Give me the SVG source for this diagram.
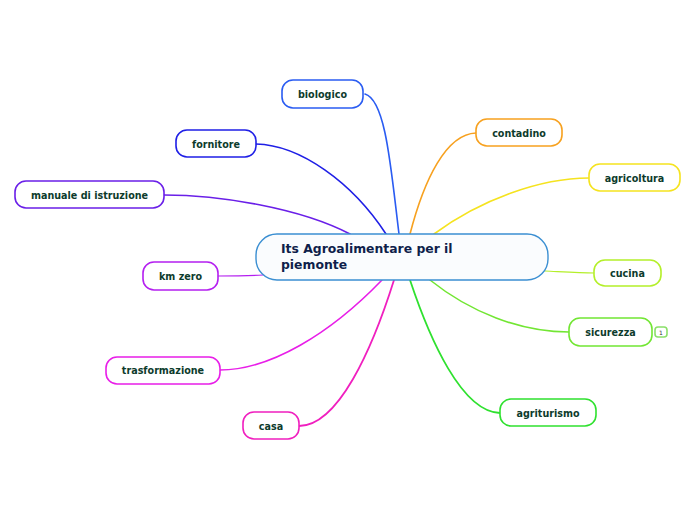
<svg xmlns="http://www.w3.org/2000/svg" width="696" height="520" viewBox="0 0 696 520">
<style>
.n rect{fill:#ffffff;stroke-width:1.6}
.n text{font-family:"DejaVu Sans",Verdana,sans-serif;font-weight:bold;font-size:9.6px;fill:#0d3b2c;text-anchor:middle}
.c path{fill:none;stroke-linecap:round}
.ct{font-family:"DejaVu Sans",Verdana,sans-serif;font-weight:bold;font-size:12.4px;fill:#0f1f4b}
</style>
<rect width="696" height="520" fill="#ffffff"/>
<g id="connectors" class="c">
<path d="M399,234 C391,170 386,100 365,94" stroke="#2a5cf2" stroke-width="1.6"/>
<path d="M410,234 C424,180 446,134 476,133" stroke="#f7a11f" stroke-width="1.6"/>
<path d="M434,234 C480,200 540,178 589,178" stroke="#f5e31f" stroke-width="1.6"/>
<path d="M545,271 C565,272 580,273 594,273" stroke="#b4ef2a" stroke-width="1.2"/>
<path d="M430,280 C470,312 520,332 569,332" stroke="#72e633" stroke-width="1.6"/>
<path d="M410,280 C430,340 462,412 500,413" stroke="#2fe12f" stroke-width="1.8"/>
<path d="M394,280 C372,350 338,426 299,426" stroke="#f01fbf" stroke-width="1.8"/>
<path d="M382,280 C330,334 270,370 220,370" stroke="#e81ee8" stroke-width="1.6"/>
<path d="M263,275 C245,276 230,276 218,276" stroke="#b41ff0" stroke-width="1.2"/>
<path d="M350,234 C300,208 220,195 164,195" stroke="#6a1fe8" stroke-width="1.6"/>
<path d="M386,234 C352,182 300,145 256,144" stroke="#1f1fe6" stroke-width="1.6"/>
</g>
<g id="center">
<rect x="256" y="234" width="292" height="46" rx="21" fill="#fafcfe" stroke="#3b8fd2" stroke-width="1.4"/>
<text class="ct" x="281" y="253">Its Agroalimentare per il</text>
<text class="ct" x="281" y="269">piemonte</text>
</g>
<g id="biologico" class="n"><rect x="282" y="80" width="81" height="28" rx="11" stroke="#2a5cf2"/><text x="322.5" y="97.5">biologico</text></g>
<g id="contadino" class="n"><rect x="476" y="119" width="86" height="27" rx="11" stroke="#f7a11f"/><text x="519" y="136.5">contadino</text></g>
<g id="agricoltura" class="n"><rect x="589" y="164" width="91" height="27" rx="11" stroke="#f5e31f"/><text x="634.5" y="181.5">agricoltura</text></g>
<g id="cucina" class="n"><rect x="594" y="260" width="67" height="26" rx="11" stroke="#b4ef2a"/><text x="627.5" y="276.5">cucina</text></g>
<g id="sicurezza" class="n"><rect x="569" y="318" width="83" height="28" rx="11" stroke="#72e633"/><text x="610.5" y="335.5">sicurezza</text>
<rect x="655" y="327" width="12" height="10" rx="3" stroke="#8be06a" stroke-width="0.8"/><text x="661" y="334.5" style="font-size:6px;font-weight:normal;fill:#333">1</text></g>
<g id="agriturismo" class="n"><rect x="500" y="399" width="96" height="27" rx="11" stroke="#2fe12f"/><text x="548" y="416.5">agriturismo</text></g>
<g id="casa" class="n"><rect x="243" y="412" width="56" height="27" rx="11" stroke="#f01fbf"/><text x="271" y="429.5">casa</text></g>
<g id="trasformazione" class="n"><rect x="106" y="357" width="114" height="27" rx="11" stroke="#e81ee8"/><text x="163" y="374">trasformazione</text></g>
<g id="kmzero" class="n"><rect x="143" y="262" width="75" height="28" rx="11" stroke="#b41ff0"/><text x="180.5" y="279.5">km zero</text></g>
<g id="manuale" class="n"><rect x="15" y="181" width="149" height="27" rx="11" stroke="#6a1fe8"/><text x="89.5" y="198.5">manuale di istruzione</text></g>
<g id="fornitore" class="n"><rect x="176" y="130" width="80" height="27" rx="11" stroke="#1f1fe6"/><text x="216" y="147.5">fornitore</text></g>
</svg>
